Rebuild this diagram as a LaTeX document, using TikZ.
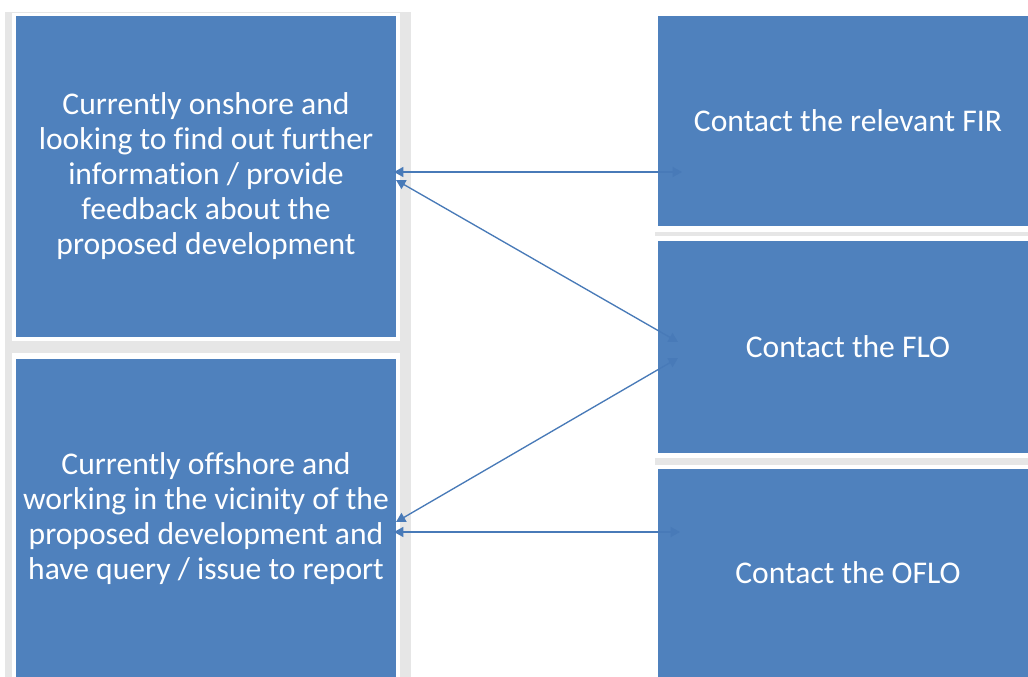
\documentclass[tikz,border=0pt]{standalone}
\usepackage{fontspec}
\setmainfont{Carlito}[Ligatures=NoCommon]
\usetikzlibrary{arrows.meta}
\definecolor{boxblue}{RGB}{79,129,189}
\definecolor{linkblue}{RGB}{72,122,184}
\definecolor{bandgray}{RGB}{230,230,230}
\begin{document}
\begin{tikzpicture}[x=0.75pt,y=-0.75pt,
  box/.style={fill=boxblue, text=white, inner sep=0pt, align=center,
    font=\fontsize{23.7}{26.25}\selectfont},
  link/.style={draw=linkblue, line width=1pt,
    {Triangle[length=7pt,width=7.5pt]}-{Triangle[length=7pt,width=7.5pt]}}]
\useasboundingbox (0,0) rectangle (1028,677);
\fill[white] (0,0) rectangle (1028,677);
% grey frame of the left column
\fill[bandgray] (5,12) rectangle (411,677);
\fill[white] (12,13) rectangle (400,341);
\fill[white] (12,353) rectangle (400,677);
% grey separators of the right column
\fill[bandgray] (655,232) rectangle (1028,236);
\fill[bandgray] (655,458) rectangle (1028,465);
% boxes
\node[box, minimum width=285pt, minimum height=240.75pt] (onshore) at (206,176.5)
  {Currently onshore and\\looking to find out further\\information / provide\\feedback about the\\proposed development};
\node[box, minimum width=285pt, minimum height=239.25pt] (offshore) at (206,518.5)
  {Currently offshore and\\working in the vicinity of the\\proposed development and\\have query / issue to report};
\node[box, minimum width=285pt, minimum height=157.5pt] (fir) at (848,121)
  {Contact the relevant FIR};
\node[box, minimum width=285pt, minimum height=159pt] (flo) at (848,347)
  {Contact the FLO};
\node[box, minimum width=285pt, minimum height=156pt] (oflo) at (848,573)
  {Contact the OFLO};
% connector end points
\coordinate (onA) at (394,172);
\coordinate (onB) at (396,180);
\coordinate (offA) at (396,522);
\coordinate (offB) at (394,532);
\coordinate (firP) at (682,172);
\coordinate (floA) at (678,342);
\coordinate (floB) at (678,358);
\coordinate (ofloP) at (680,532);
% connectors
\draw[link] (onA) -- (firP);
\draw[link] (onB) -- (floA);
\draw[link] (offA) -- (floB);
\draw[link] (offB) -- (ofloP);
\end{tikzpicture}
\end{document}
